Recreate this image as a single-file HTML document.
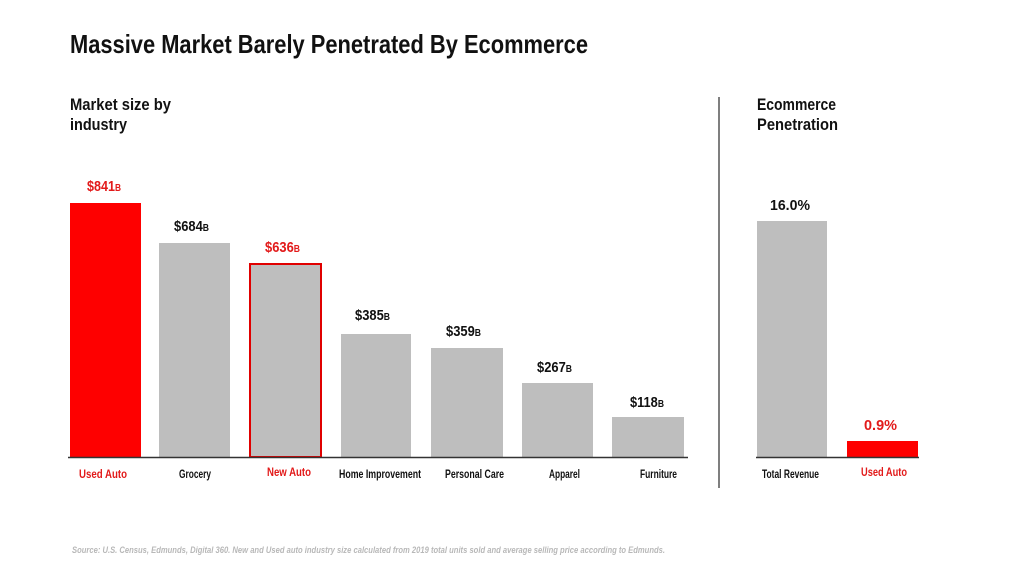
<!DOCTYPE html>
<html><head><meta charset="utf-8"><style>
html,body{margin:0;padding:0;background:#fff;width:1024px;height:576px;overflow:hidden}
svg{display:block}
text{font-family:"Liberation Sans Narrow","Liberation Sans",sans-serif;font-weight:bold}
</style></head><body>
<svg width="1024" height="576" viewBox="0 0 1024 576">
<text x="70" y="53" font-size="26" fill="#111" textLength="518" lengthAdjust="spacingAndGlyphs">Massive Market Barely Penetrated By Ecommerce</text>
<text x="70" y="110" font-size="17" fill="#111" textLength="101" lengthAdjust="spacingAndGlyphs">Market size by</text>
<text x="70" y="130" font-size="17" fill="#111" textLength="57" lengthAdjust="spacingAndGlyphs">industry</text>
<text x="757" y="110" font-size="17" fill="#111" textLength="79" lengthAdjust="spacingAndGlyphs">Ecommerce</text>
<text x="757" y="130" font-size="17" fill="#111" textLength="81" lengthAdjust="spacingAndGlyphs">Penetration</text>

<rect x="70" y="203" width="71" height="254" fill="#fe0000"/>
<rect x="159" y="243" width="71" height="214" fill="#bebebe"/>
<rect x="250" y="264" width="71" height="193" fill="#bebebe" stroke="#e00000" stroke-width="2"/>
<rect x="341" y="334" width="70" height="123" fill="#bebebe"/>
<rect x="431" y="348" width="72" height="109" fill="#bebebe"/>
<rect x="522" y="383" width="71" height="74" fill="#bebebe"/>
<rect x="612" y="417" width="72" height="40" fill="#bebebe"/>
<line x1="68" y1="457.5" x2="688" y2="457.5" stroke="#333" stroke-width="1.5"/>

<g font-size="15" lengthAdjust="spacingAndGlyphs">
<text x="87" y="191" fill="#e21a1a" textLength="34" lengthAdjust="spacingAndGlyphs">$841<tspan font-size="10">B</tspan></text>
<text x="174" y="231" fill="#111" textLength="35" lengthAdjust="spacingAndGlyphs">$684<tspan font-size="10">B</tspan></text>
<text x="265" y="252" fill="#e21a1a" textLength="35" lengthAdjust="spacingAndGlyphs">$636<tspan font-size="10">B</tspan></text>
<text x="355" y="320" fill="#111" textLength="35" lengthAdjust="spacingAndGlyphs">$385<tspan font-size="10">B</tspan></text>
<text x="446" y="336" fill="#111" textLength="35" lengthAdjust="spacingAndGlyphs">$359<tspan font-size="10">B</tspan></text>
<text x="537" y="372" fill="#111" textLength="35" lengthAdjust="spacingAndGlyphs">$267<tspan font-size="10">B</tspan></text>
<text x="630" y="407" fill="#111" textLength="34" lengthAdjust="spacingAndGlyphs">$118<tspan font-size="10">B</tspan></text>
</g>
<g font-size="12">
<text x="79" y="478" fill="#e21a1a" textLength="48" lengthAdjust="spacingAndGlyphs">Used Auto</text>
<text x="179" y="478" fill="#111" font-weight="normal" textLength="32" lengthAdjust="spacingAndGlyphs">Grocery</text>
<text x="267" y="476" fill="#e21a1a" textLength="44" lengthAdjust="spacingAndGlyphs">New Auto</text>
<text x="339" y="478" fill="#111" font-weight="normal" textLength="82" lengthAdjust="spacingAndGlyphs">Home Improvement</text>
<text x="445" y="478" fill="#111" font-weight="normal" textLength="59" lengthAdjust="spacingAndGlyphs">Personal Care</text>
<text x="549" y="478" fill="#111" font-weight="normal" textLength="31" lengthAdjust="spacingAndGlyphs">Apparel</text>
<text x="640" y="478" fill="#111" font-weight="normal" textLength="37" lengthAdjust="spacingAndGlyphs">Furniture</text>
</g>

<line x1="719" y1="97" x2="719" y2="488" stroke="#555" stroke-width="1.5"/>
<rect x="757" y="221" width="70" height="236" fill="#bebebe"/>
<rect x="847" y="441" width="71" height="16" fill="#fe0000"/>
<line x1="756" y1="457.5" x2="919" y2="457.5" stroke="#333" stroke-width="1.5"/>
<text x="770" y="210" font-size="15" fill="#111" textLength="40" lengthAdjust="spacingAndGlyphs">16.0%</text>
<text x="864" y="430" font-size="15" fill="#e21a1a" textLength="33" lengthAdjust="spacingAndGlyphs">0.9%</text>
<text x="762" y="478" font-size="12" fill="#111" font-weight="normal" textLength="57" lengthAdjust="spacingAndGlyphs">Total Revenue</text>
<text x="861" y="476" font-size="12" fill="#e21a1a" textLength="46" lengthAdjust="spacingAndGlyphs">Used Auto</text>

<text x="72" y="553" font-size="9" fill="#b8b8b8" font-style="italic" font-weight="normal" textLength="593" lengthAdjust="spacingAndGlyphs">Source: U.S. Census,  Edmunds,  Digital 360. New and Used auto industry size calculated from 2019 total units sold and average selling price according to Edmunds.</text>
</svg>
</body></html>
